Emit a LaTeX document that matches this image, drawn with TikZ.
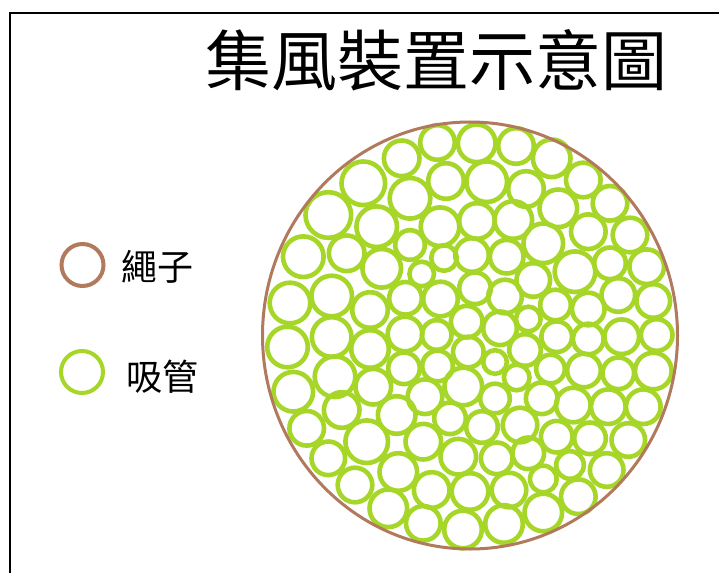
\documentclass[tikz,border=0pt]{standalone}
\usepackage{fontspec}
\newfontfamily\cjk{Noto Sans CJK TC}
\definecolor{straw}{RGB}{166,214,40}
\definecolor{rope}{RGB}{178,122,92}
\begin{document}
\begin{tikzpicture}[x=1pt,y=-1pt,
  strawring/.style={draw=straw,line width=4.6pt},
  ropering/.style={draw=rope,line width=3pt},
  frameline/.style={draw=black,line width=2.8pt},
  titletext/.style={font=\cjk\fontsize{66}{70}\selectfont,inner sep=0pt},
  legendtext/.style={font=\cjk\fontsize{36}{40}\selectfont,inner sep=0pt,anchor=west}]
\useasboundingbox (0,0) rectangle (719,572);
\fill[white] (0,0) rectangle (719,572);
% frame (top and left edges visible)
\coordinate (fA) at (10,580);
\coordinate (fB) at (10,13);
\coordinate (fC) at (730,13);
\draw[frameline] (fA) -- (fB) -- (fC);
% title
\node[titletext] (title) at (436,60) {集風裝置示意圖};
% legend
\draw[ropering,line width=4pt] (82.5,265) circle[radius=21];
\node[legendtext] (lrope) at (121,267) {繩子};
\draw[strawring,line width=4pt] (82,372) circle[radius=21];
\node[legendtext] (lstraw) at (126,377) {吸管};
% straws
\foreach \x/\y/\r in {
401.7/158.3/17, 437.5/142.5/16.5, 476.7/143.3/18, 516/146/17, 551.7/158.3/18,
363.3/183.3/21, 410/198.3/19.5, 446/181/17, 486.7/181.7/19.5, 526/189/17, 583.3/180/16.5,
328.3/215/22, 376.7/226.7/19.5, 440/226.7/18.5, 477/221/17, 513.3/220/18, 558.3/208.3/18,
610/203.3/16.5, 588.3/231.7/16.5, 630/235/16.5, 543.3/243.3/19,
303.3/256.7/19.5, 346.7/253.3/17, 381.7/268.3/18.5, 410/245/14, 444/258/12, 421.7/274/11.5,
472/255/16, 506.7/256.7/16, 575/271.7/19.5, 610/263.3/15, 646.7/266.7/16.5, 533.3/280/16,
290/303/19.5, 331.7/296/19.5, 370/310/17, 405.5/298.3/15.5, 440.5/299/16.5, 475/288.3/15,
505/296.5/16, 555.5/305/14.5, 588.3/309/15.5, 618.3/295/16, 653.3/301/16, 528.3/319/11.5,
466.7/321.7/15, 500/328.3/16, 436.7/335/14, 405/334/16.5, 331.7/337/19, 287.5/347/19.5,
370/349/18, 468.3/352/14.5, 495/362/11, 525/350/15, 556.7/336.7/14.5, 588.3/339/14.5,
621.7/336.7/16.5, 656.7/335/15, 437.5/366/14.5, 404/368.3/15, 516.7/377.5/12,
550.5/369/13.5, 584/370.5/16, 618.3/373.3/15, 653.3/371/17.5,
293.3/391.7/19, 335/376.7/19.5, 373.3/386.7/17, 463.3/386.5/18, 425/396.7/16.5,
495/398.5/14, 541.7/398.3/15, 573.3/405/16.5, 608.3/406.7/16.5, 643.3/406.7/16.5,
341.7/410/17, 306.7/428.3/16.5, 396.7/415/18, 450/418.3/15, 482/427/15, 520/425/16.5,
556.7/436.7/15, 590/438.3/15, 628.3/440/16, 366.7/441.7/20.5, 423.3/441.7/17,
458.3/456.7/17, 496.7/458.3/15, 528.3/453.3/15, 570/465/13, 606.7/470/16,
328.3/458.3/16, 398.3/472/18, 543.3/479/12.5, 355/485/16.5, 431.7/490/17,
470/491.5/17.5, 509/490/16.5, 578.3/496.7/16.5, 388.3/508.3/18, 423.3/523.3/16.5,
463/529.5/18, 504/524/18, 543.3/512.5/18}
  {\draw[strawring] (\x,\y) circle[radius=\r+0.8];}
% rope
\draw[ropering] (470,335.5) ellipse[x radius=207.5, y radius=213.5];
\end{tikzpicture}
\end{document}
